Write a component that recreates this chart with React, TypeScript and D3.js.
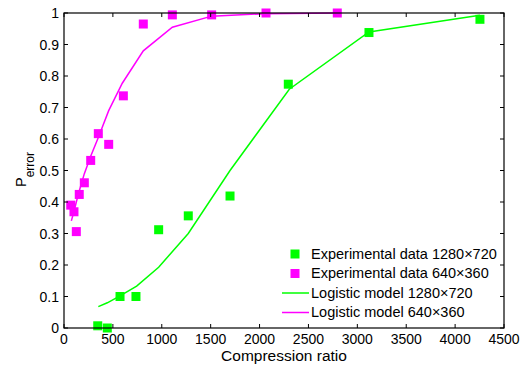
import React from "react";
import * as d3 from "d3";

// Experimental measurements, 1280x720
const expHD_x = [345, 443, 573, 736, 968, 1271, 1698, 2294, 3119, 4254];
const expHD_p = [0.007, 0.0, 0.1, 0.1, 0.312, 0.356, 0.419, 0.774, 0.938, 0.98];

// Experimental measurements, 640x360
const expSD_x = [69, 102, 126, 156, 208, 273, 351, 457, 607, 811, 1108, 1510, 2066, 2795];
const expSD_p = [0.39, 0.369, 0.306, 0.424, 0.461, 0.532, 0.617, 0.583, 0.737, 0.965, 0.994, 0.994, 1.0, 1.0];

// Fitted logistic curves
const modelHD_x = [351, 443, 573, 743, 968, 1271, 1698, 2304, 3119, 4254];
const modelHD_p = [0.068, 0.08, 0.102, 0.133, 0.193, 0.3, 0.5, 0.758, 0.94, 0.993];

const modelSD_x = [75, 102, 126, 156, 208, 273, 351, 457, 596, 811, 1108, 1510, 2066, 2795];
const modelSD_p = [0.34, 0.37, 0.4, 0.435, 0.49, 0.545, 0.605, 0.69, 0.777, 0.88, 0.955, 0.99, 0.998, 1.0];

const xTicks = [0, 500, 1000, 1500, 2000, 2500, 3000, 3500, 4000, 4500];
const yTicks = [0, 0.1, 0.2, 0.3, 0.4, 0.5, 0.6, 0.7, 0.8, 0.9, 1];

const legendItems = [
  { label: "Experimental data 1280×720", color: "#00ff00", kind: "square" },
  { label: "Experimental data 640×360", color: "#ff00ff", kind: "square" },
  { label: "Logistic model 1280×720", color: "#00ff00", kind: "line" },
  { label: "Logistic model 640×360", color: "#ff00ff", kind: "line" },
];

const W = 522;
const H = 365;
const L = 64, R = 504, T = 13, B = 328;
const FONT = "'Liberation Sans', Arial, Helvetica, sans-serif";

export default function App() {
  const x = d3.scaleLinear().domain([0, 4500]).range([L, R]);
  const y = d3.scaleLinear().domain([0, 1]).range([B, T]);
  const line = d3
    .line<[number, number]>()
    .x((d) => x(d[0]))
    .y((d) => y(d[1]));

  const hdModel = modelHD_x.map((v, i) => [v, modelHD_p[i]] as [number, number]);
  const sdModel = modelSD_x.map((v, i) => [v, modelSD_p[i]] as [number, number]);
  const sq = 9;
  const tickLen = 4;

  return (
    <svg
      width={W}
      height={H}
      style={{ position: "absolute", left: 0, top: 0, background: "#fff" }}
      fontFamily={FONT}
    >
      <rect x={0} y={0} width={W} height={H} fill="#fff" />

      {/* model curves */}
      <path d={line(hdModel) ?? ""} fill="none" stroke="#00ff00" strokeWidth={1.5} />
      <path d={line(sdModel) ?? ""} fill="none" stroke="#ff00ff" strokeWidth={1.5} />

      {/* measured points */}
      {expHD_x.map((v, i) => (
        <rect key={"hd" + i} x={x(v) - sq / 2} y={y(expHD_p[i]) - sq / 2} width={sq} height={sq} fill="#00ff00" />
      ))}
      {expSD_x.map((v, i) => (
        <rect key={"sd" + i} x={x(v) - sq / 2} y={y(expSD_p[i]) - sq / 2} width={sq} height={sq} fill="#ff00ff" />
      ))}

      {/* axes box */}
      <rect x={L} y={T} width={R - L} height={B - T} fill="none" stroke="#000" strokeWidth={1.2} />

      {/* x ticks */}
      {xTicks.map((t) => (
        <g key={"xt" + t}>
          <line x1={x(t)} x2={x(t)} y1={B} y2={B - tickLen} stroke="#000" />
          <line x1={x(t)} x2={x(t)} y1={T} y2={T + tickLen} stroke="#000" />
          <text x={x(t)} y={344} fontSize={14} textAnchor="middle" fill="#000">
            {t}
          </text>
        </g>
      ))}

      {/* y ticks */}
      {yTicks.map((t) => (
        <g key={"yt" + t}>
          <line x1={L} x2={L + tickLen} y1={y(t)} y2={y(t)} stroke="#000" />
          <line x1={R} x2={R - tickLen} y1={y(t)} y2={y(t)} stroke="#000" />
          <text x={59} y={y(t) + 5} fontSize={14} textAnchor="end" fill="#000">
            {d3.format("~g")(t)}
          </text>
        </g>
      ))}

      {/* axis titles */}
      <text x={(L + R) / 2} y={361} fontSize={15.5} textAnchor="middle" fill="#000">
        Compression ratio
      </text>
      <text transform="translate(25.5,187) rotate(-90)" fontSize={14.5} textAnchor="start" fill="#000">
        P<tspan fontSize={12} dy={8}>error</tspan>
      </text>

      {/* legend */}
      {legendItems.map((it, i) => {
        const cy = 254 + i * 19.5;
        return (
          <g key={"lg" + i}>
            {it.kind === "square" ? (
              <rect x={295 - sq / 2} y={cy - sq / 2} width={sq} height={sq} fill={it.color} />
            ) : (
              <line x1={282} x2={309} y1={cy} y2={cy} stroke={it.color} strokeWidth={1.5} />
            )}
            <text x={311} y={cy + 4.8} fontSize={14.5} fill="#000">
              {it.label}
            </text>
          </g>
        );
      })}
    </svg>
  );
}
